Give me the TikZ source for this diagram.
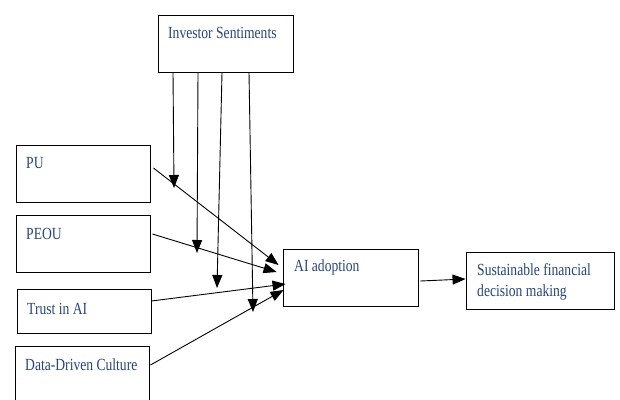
\documentclass[tikz,border=0pt]{standalone}
\usepackage{fontspec}
\setmainfont[FakeStretch=0.8]{Liberation Serif}
\usetikzlibrary{arrows.meta}
\definecolor{txtblue}{HTML}{264578}

\begin{document}
\begin{tikzpicture}[x=1pt,y=-1pt,
    box/.style={draw=black,line width=0.9pt,rectangle,minimum height=57pt,minimum width=134pt},
    lbl/.style={anchor=west,text=txtblue,font=\fontsize{17}{21}\selectfont,align=left},
    arr/.style={-{Triangle[length=13pt,width=10pt]},line width=0.9pt,black}]
    \tikzstyle{every node}+=[inner sep=0pt]
    \useasboundingbox (0,0) rectangle (620,399);
    % boxes
    \node [box,minimum width=135pt] (inv) at (225.5,43.5) {};
    \node [box] (pu) at (83,173.5) {};
    \node [box] (peou) at (83,243.5) {};
    \node [box,minimum height=44pt] (trust) at (84,311) {};
    \node [box] (ddc) at (82,374.5) {};
    \node [box,minimum width=135pt] (ai) at (350.5,277.5) {};
    \node [box,minimum width=148pt] (sus) at (540,280.5) {};
    % labels
    \node [lbl] (invtxt) at (168,33) {Investor Sentiments};
    \node [lbl] (putxt) at (26,163) {PU};
    \node [lbl] (peoutxt) at (26,234) {PEOU};
    \node [lbl] (trusttxt) at (27,309) {Trust in AI};
    \node [lbl] (ddctxt) at (25,365) {Data-Driven Culture};
    \node [lbl] (aitxt) at (294,267) {AI adoption};
    \node [lbl] (sustxt) at (477,282) {Sustainable financial\\decision making};
    % moderator ends
    \coordinate (m1) at (174,188);
    \coordinate (m2) at (197,253);
    \coordinate (m3) at (217,288);
    \coordinate (m4) at (253,312);
    \draw [arr] ([xshift=-52.5pt]inv.south) -- (m1);
    \draw [arr] ([xshift=-27.5pt]inv.south) -- (m2);
    \draw [arr] ([xshift=-3.5pt]inv.south) -- (m3);
    \draw [arr] ([xshift=23.5pt]inv.south) -- (m4);
    % paths to AI adoption
    \draw [arr] ([shift={(3,-5.5)}]pu.east) -- ([shift={(-4,-12.5)}]ai.west);
    \draw [arr] ([shift={(2,-9.5)}]peou.east) -- ([shift={(-6,-5.5)}]ai.west);
    \draw [arr] ([shift={(0,-10)}]trust.east) -- ([shift={(3,6.5)}]ai.west);
    \draw [arr] ([shift={(1,-9.5)}]ddc.east) -- ([shift={(1,12.5)}]ai.west);
    \draw [arr] ([shift={(2,3.5)}]ai.east) -- ([shift={(0,-1.5)}]sus.west);
\end{tikzpicture}
\end{document}
